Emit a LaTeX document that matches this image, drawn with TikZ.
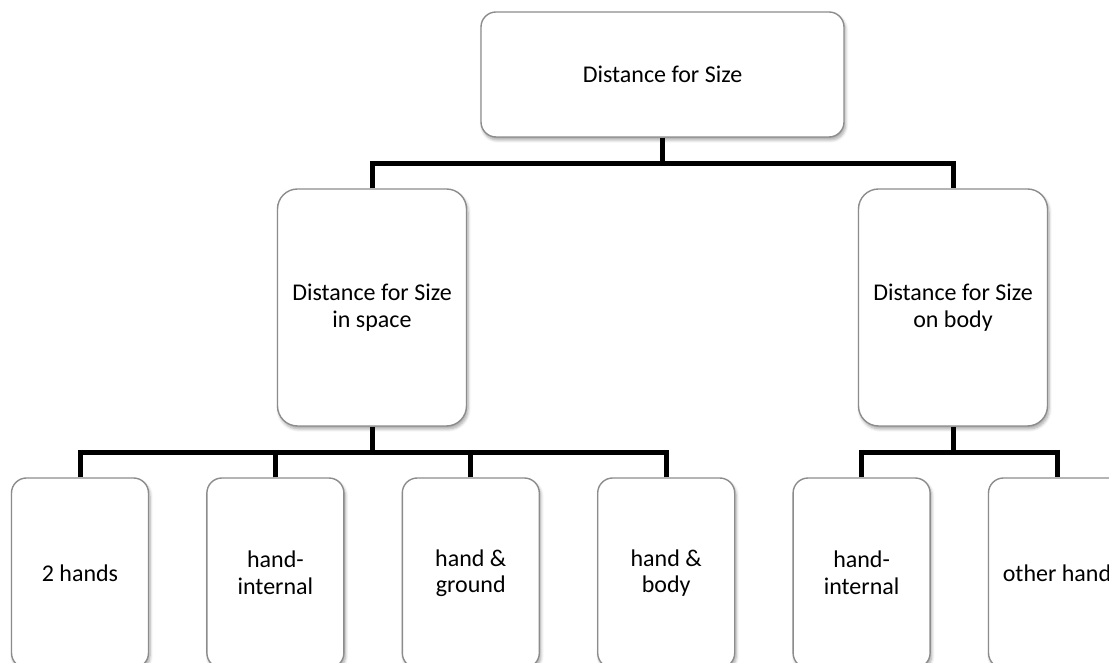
\documentclass[tikz,border=0pt]{standalone}
\usepackage{fontspec}
\setmainfont{Carlito}
\usepackage{tikz}
\usetikzlibrary{positioning,shadows.blur}

\tikzset{
  box/.style={draw=black!45, line width=1.4pt, fill=white, rounded corners=17pt,
    align=center, inner sep=0pt,
    blur shadow={shadow xshift=1.5pt, shadow yshift=-3pt, shadow blur steps=6,
      shadow blur radius=3pt, shadow opacity=35}},
  wide/.style={box, minimum width=363pt, minimum height=125pt, rounded corners=15pt},
  tall/.style={box, minimum width=189pt, minimum height=237pt, rounded corners=20pt},
  leaf/.style={box, minimum width=137pt, minimum height=190pt, rounded corners=15pt},
  link/.style={line width=5pt, black}
}

\begin{document}
\begin{tikzpicture}[font=\fontsize{24pt}{26.5pt}\selectfont]
\clip (0,0) rectangle (1109pt,663pt);
% top and middle level
\node[wide] (dfs) at (662.5pt,588.5pt) {Distance for Size};
\node[tall] (space) at (372pt,355.5pt) {Distance for Size\\in space};
\node[tall] (body) at (953pt,355.5pt) {Distance for Size\\on body};
% bottom level
\node[leaf] (twoh) at (80pt,90pt) {2 hands};
\node[leaf, right=57pt of twoh] (hint) {hand-\\internal};
\node[leaf, right=57pt of hint] (hground) {hand \&\\ground};
\node[leaf, right=57pt of hground] (hbody) {hand \&\\body};
\node[leaf, right=57pt of hbody] (bint) {hand-\\internal};
\node[leaf, right=57pt of bint] (other) {other hand};
% connectors
\coordinate (bus1) at ($(dfs.south)+(0,-26pt)$);
\coordinate (bus2) at ($(space.south)+(0,-26pt)$);
\coordinate (bus3) at ($(body.south)+(0,-26pt)$);
\draw[link] (dfs.south) -- (bus1);
\draw[link] (space.north) |- (bus1) -| (body.north);
\draw[link] (space.south) -- (bus2);
\draw[link] (twoh.north) |- (bus2) -| (hbody.north);
\draw[link] (hint.north) -- (hint.north |- bus2);
\draw[link] (hground.north) -- (hground.north |- bus2);
\draw[link] (body.south) -- (bus3);
\draw[link] (bint.north) |- (bus3) -| (other.north);
\end{tikzpicture}
\end{document}
